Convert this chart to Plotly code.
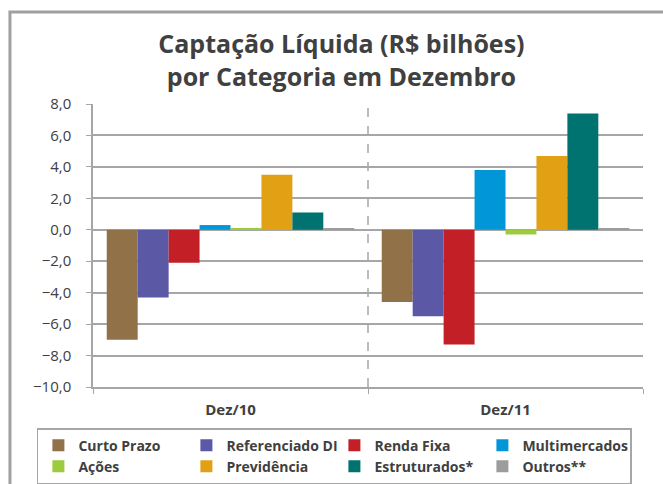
import plotly.graph_objects as go

# data
categorias = ['Dez/10', 'Dez/11']

curto_prazo = [-7.0, -4.6]
referenciado_di = [-4.3, -5.5]
renda_fixa = [-2.1, -7.3]
multimercados = [0.3, 3.8]
acoes = [0.1, -0.3]
previdencia = [3.5, 4.7]
estruturados = [1.1, 7.4]
outros = [0.1, 0.1]

series = [
    ('Curto Prazo', curto_prazo, '#917148'),
    ('Referenciado DI', referenciado_di, '#5B58A6'),
    ('Renda Fixa', renda_fixa, '#C21F27'),
    ('Multimercados', multimercados, '#0096D8'),
    ('Ações', acoes, '#9CCB3B'),
    ('Previdência', previdencia, '#E2A015'),
    ('Estruturados*', estruturados, '#00726F'),
    ('Outros**', outros, '#9C9C9C'),
]

txt = '#404040'
grid = '#A6A6A6'

fig = go.Figure()
for nome, vals, cor in series:
    fig.add_trace(go.Bar(x=categorias, y=vals, name=nome, marker=dict(color=cor, line=dict(width=0))))

fig.update_layout(
    width=663, height=484,
    paper_bgcolor='white', plot_bgcolor='white',
    margin=dict(l=93, r=20, t=104, b=97, autoexpand=False),
    separators=',.',
    barmode='group', bargap=0.1, bargroupgap=0,
    font=dict(family='Open Sans', color=txt),
    title=dict(text='<b>Captação Líquida (R$ bilhões)<br>por Categoria em Dezembro</b>',
               x=0.515, xanchor='center', y=0.89, yanchor='top',
               font=dict(size=25, color=txt)),
    legend=dict(orientation='h', x=-0.102, xanchor='left', y=-0.145, yanchor='top',
                entrywidth=103, bordercolor=grid, borderwidth=1.5,
                font=dict(size=14, color=txt, weight='bold'), traceorder='normal',
                itemwidth=30),
    showlegend=True,
)

fig.update_yaxes(range=[-10, 8], dtick=2, tickformat='.1f',
                 showgrid=True, gridcolor=grid, gridwidth=2,
                 zeroline=True, zerolinecolor=grid, zerolinewidth=2,
                 showline=True, linecolor=grid, linewidth=1.5,
                 ticks='outside', ticklen=5, tickcolor=grid, ticklabelstandoff=12,
                 tickfont=dict(size=15, color=txt))
fig.update_xaxes(showline=True, linecolor=grid, linewidth=1.5,
                 ticks='outside', tickson='boundaries', ticklen=5, tickcolor=grid,
                 ticklabelstandoff=8,
                 tickfont=dict(size=15, color=txt),
                 ticktext=['<b>Dez/10</b>', '<b>Dez/11</b>'], tickvals=categorias)

# dashed divider between categories
fig.add_shape(type='line', xref='x', yref='paper', x0=0.5, x1=0.5, y0=0, y1=1,
              line=dict(color=grid, width=1.5, dash='dash'))
# outer frame of the chart
fig.add_shape(type='rect', xref='paper', yref='paper', x0=-0.151, x1=1.2, y0=-0.6, y1=1.325,
              line=dict(color='#A0A0A0', width=3), layer='below')

# drop the default page margin so the figure sits at the window corner
fig.write_html('out.html', config={'displayModeBar': False},
               post_script="document.body.style.margin='0';")
